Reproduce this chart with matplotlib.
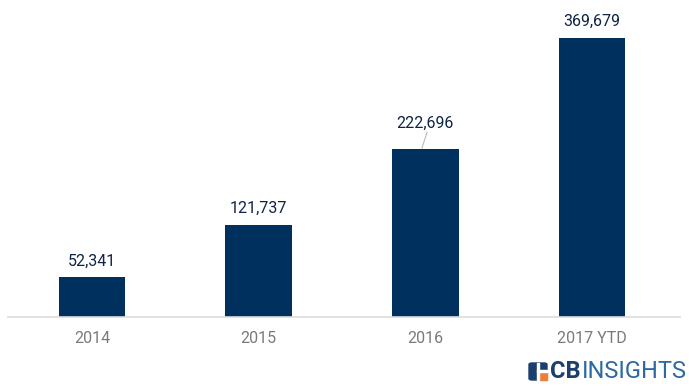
import matplotlib.pyplot as plt
from matplotlib.patches import FancyBboxPatch, Rectangle

years = ["2014", "2015", "2016", "2017 YTD"]
values = [52341, 121737, 222696, 369679]

BAR_COLOR = "#00305e"
LABEL_COLOR = "#0d2347"
TICK_COLOR = "#7a7a7a"

plt.rcParams["font.family"] = ["Roboto", "DejaVu Sans"]

fig = plt.figure(figsize=(6.89, 3.92), dpi=100)
ax = fig.add_axes([8 / 689, 75 / 392, 672 / 689, 302 / 392])

x = range(len(years))
ax.bar(x, values, width=0.4, color=BAR_COLOR, zorder=2)
ax.set_xlim(-0.504, 3.528)
ax.set_ylim(0, 400000)

for i, v in enumerate(values):
    off = 24000 if i == 2 else 12000
    ax.text(i, v + off, f"{v:,}", ha="center", va="bottom",
            fontsize=11.5, color=LABEL_COLOR, clip_on=False)
# leader line for the 2016 label
ax.plot([1.98, 2.01], [values[2] + 1000, values[2] + 22000],
        color="#bbbbbb", lw=0.8, clip_on=False)

ax.set_yticks([])
ax.set_xticks(list(x))
ax.set_xticklabels(years, fontsize=11.5, color=TICK_COLOR)
ax.tick_params(axis="x", length=0, pad=10)
for s in ["top", "right", "left"]:
    ax.spines[s].set_visible(False)
ax.spines["bottom"].set_color("#dddddd")
ax.spines["bottom"].set_linewidth(1.2)

# CB Insights logo
icon = FancyBboxPatch((529 / 689, 12 / 392), 18 / 689, 17 / 392,
                      boxstyle="round,pad=0,rounding_size=0.004",
                      transform=fig.transFigure, color="#1d3f6e")
fig.patches.append(icon)
fig.patches.append(Rectangle((539 / 689, 12 / 392), 8 / 689, 8 / 392,
                             transform=fig.transFigure, color="#f07c3a"))
fig.patches.append(Rectangle((537 / 689, 12 / 392), 2 / 689, 17 / 392,
                             transform=fig.transFigure, color="white"))
fig.patches.append(Rectangle((537 / 689, 20 / 392), 10 / 689, 2 / 392,
                             transform=fig.transFigure, color="white"))
fig.text(550 / 689, 20.5 / 392, "CB", fontsize=17, fontweight="bold",
         color="#1d3f6e", va="center", ha="left")
fig.text(582 / 689, 20.5 / 392, "INSIGHTS", fontsize=17,
         color="#2d6aa3", va="center", ha="left")

fig.savefig("out.png", dpi=100)
